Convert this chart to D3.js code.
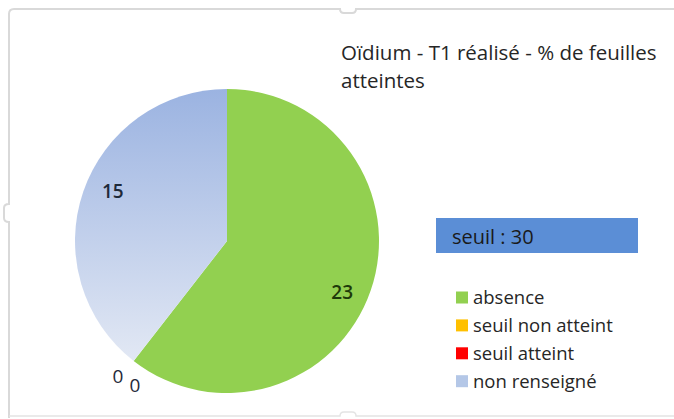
<!DOCTYPE html>
<html>
<head>
<meta charset="utf-8">
<script src="https://cdn.jsdelivr.net/npm/d3@7"></script>
<style>
  body { margin: 0; background: #fff; }
  svg text { font-family: "Open Sans", sans-serif; fill: #262626; }
</style>
</head>
<body>
<div id="chart"></div>
<script>
const WIDTH = 674
const HEIGHT = 419

// chart data
const categories = ["absence", "seuil non atteint", "seuil atteint", "non renseigné"]
const values = [23, 0, 0, 15]
const colors = ["#92d050", "#ffc000", "#ff0000", "#b4c7e7"]
const titleLines = ["Oïdium - T1 réalisé - % de feuilles", "atteintes"]
const seuilLabel = "seuil : 30"

var svg = d3.select("#chart")
	.append("svg")
	.attr("width", WIDTH)
	.attr("height", HEIGHT)

// gradient for the "non renseigné" slice
var defs = svg.append("defs")
var grad = defs.append("linearGradient")
	.attr("id", "blueGrad")
	.attr("x1", 0).attr("y1", 0).attr("x2", 0).attr("y2", 1)
grad.append("stop").attr("offset", "0%").attr("stop-color", "#9bb3e1")
grad.append("stop").attr("offset", "100%").attr("stop-color", "#e2e8f4")

// chart frame (excel selection border with its little handles)
var frame = svg.append("g")
	.attr("fill", "none")
	.attr("stroke", "#d9d9d9")
	.attr("stroke-width", 2)
frame.append("path")
	.attr("d", "M9,418 L9,222 Q4,222 4,218 L4,208 Q4,204 9,204 L9,14 Q9,9 14,9 L340,9 Q340,13 344,13 L352,13 Q356,13 356,9 L690,9")
frame.append("path")
	.attr("d", "M9,416 L340,416 Q340,412 344,412 L352,412 Q356,412 356,416 L690,416")
	.attr("stroke", "#e4e4e4")
	.attr("stroke-width", 1.5)

// pie
var cx = 227, cy = 241, r = 152
var pie = d3.pie().sort(null).value(d => d)
var arcs = pie(values)
var arc = d3.arc().innerRadius(0).outerRadius(r)

var g = svg.append("g").attr("transform", "translate(" + cx + "," + cy + ")")

g.selectAll("path.slice")
	.data(arcs)
	.enter()
	.append("path")
	.attr("class", "slice")
	.attr("d", arc)
	.attr("fill", (d, i) => i == 3 ? "url(#blueGrad)" : colors[i])
	.attr("stroke", "none")

// data labels, offsets tuned to look like the excel placement
var labelArc = d3.arc().innerRadius(r * 0.78).outerRadius(r * 0.78)
var outerArc = d3.arc().innerRadius(r + 14).outerRadius(r + 14)
var labelShift = [[3, 13], [-7, 4], [10, 13], [-2, -11]]
g.selectAll("text.lbl")
	.data(arcs)
	.enter()
	.append("text")
	.attr("class", "lbl")
	.attr("transform", function(d, i) {
		var p = d.value == 0 ? outerArc.centroid(d) : labelArc.centroid(d)
		return "translate(" + (p[0] + labelShift[i][0]) + "," + (p[1] + labelShift[i][1]) + ")"
	})
	.attr("text-anchor", "middle")
	.attr("dy", "0.35em")
	.style("font-size", d => d.value == 0 ? "19px" : "19px")
	.style("font-weight", d => d.value == 0 ? "normal" : "600")
	.style("fill", (d, i) => i == 0 ? "#1e3a0a" : "#1f2a3a")
	.text(d => d.value)

// title
svg.append("g").selectAll("text")
	.data(titleLines)
	.enter()
	.append("text")
	.attr("x", 341)
	.attr("y", (d, i) => 60 + i * 28)
	.style("font-size", "20.5px")
	.text(d => d)

// seuil box
svg.append("rect")
	.attr("x", 436).attr("y", 218)
	.attr("width", 202).attr("height", 35)
	.attr("fill", "#5b8ed6")
svg.append("text")
	.attr("x", 452).attr("y", 244)
	.style("font-size", "20px")
	.style("fill", "#1a1a1a")
	.text(seuilLabel)

// legend
var legend = svg.append("g").selectAll("g")
	.data(categories)
	.enter()
	.append("g")
	.attr("transform", (d, i) => "translate(456," + (297.5 + i * 27.9) + ")")
legend.append("rect")
	.attr("x", 0).attr("y", -6)
	.attr("width", 12).attr("height", 12)
	.attr("fill", (d, i) => colors[i])
legend.append("text")
	.attr("x", 17)
	.attr("dy", "0.35em")
	.style("font-size", "18.5px")
	.text(d => d)
</script>
</body>
</html>
